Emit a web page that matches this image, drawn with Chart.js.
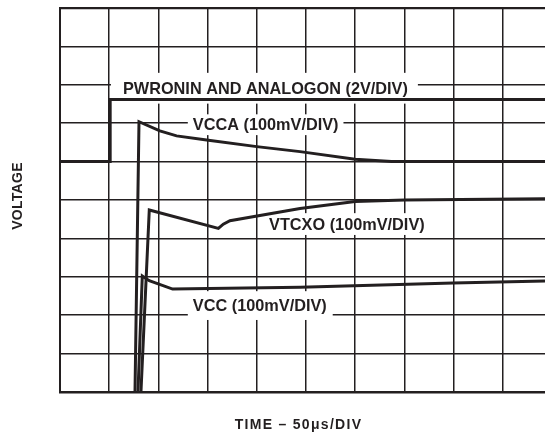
<!DOCTYPE html>
<html><head><meta charset="utf-8">
<script src="https://cdn.jsdelivr.net/npm/chart.js@4/dist/chart.umd.min.js"></script>
<style>html,body{margin:0;padding:0;background:#fff;overflow:hidden}</style>
</head><body>
<canvas id="c" width="545" height="435"></canvas>
<script>
// ---- data (units: oscilloscope divisions) ----
const xTitle = 'TIME \u2013 50\u03bcs/DIV';
const yTitle = 'VOLTAGE';
const xDivisions = [0, 1, 2, 3, 4, 5, 6, 7, 8, 9];
const yDivisions = [0, 1, 2, 3, 4, 5, 6, 7, 8, 9, 10];

const pwroninX = [0, 1.02, 1.02, 9.86];
const pwroninY = [6.0, 6.0, 7.62, 7.62];

const vccaX = [1.519, 1.606, 2.03, 2.37, 2.98, 4.0, 4.88, 6.0, 6.74, 9.86];
const vccaY = [-0.5, 7.04, 6.80, 6.67, 6.56, 6.39, 6.26, 6.06, 6.0, 6.0];

const vtcxoX = [1.628, 1.815, 3.22, 3.32, 3.455, 4.88, 6.0, 7.01, 9.86];
const vtcxoY = [-0.5, 4.74, 4.26, 4.37, 4.46, 4.78, 4.96, 5.0, 5.03];

const vccX = [1.571, 1.673, 1.815, 2.29, 4.88, 7.99, 9.86];
const vccY = [-0.5, 3.02, 2.90, 2.68, 2.73, 2.84, 2.89];

const labelTexts = ['PWRONIN AND ANALOGON (2V/DIV)', 'VCCA (100mV/DIV)', 'VTCXO (100mV/DIV)', 'VCC (100mV/DIV)'];

// ---- annotation placement (data units) and styles ----
const labelPlacement = [
  {x: 1.28, y: 7.77, padL: 12, padR: 10, padT: 9, padB: 10},
  {x: 2.70, y: 6.82, padL: 5, padR: 5, padT: 4, padB: 5},
  {x: 4.25, y: 4.22, padL: 5, padR: 5, padT: 5, padB: 5},
  {x: 2.70, y: 2.11, padL: 5, padR: 6, padT: 8, padB: 9}
];
const INK = '#231f20';
const FONT = '"Liberation Sans", Arial, sans-serif';

const zip = (xs, ys) => xs.map((x, i) => ({x: x, y: ys[i]}));
const mk = (label, xs, ys) => ({
  label: label, data: zip(xs, ys), borderColor: INK, borderWidth: 3,
  pointRadius: 0, tension: 0, fill: false, borderJoinStyle: 'miter', clip: 0
});

const labelPlugin = {
  id: 'traceLabels',
  beforeDatasetsDraw(chart) {
    const ctx = chart.ctx, xs = chart.scales.x, ys = chart.scales.y;
    ctx.save();
    ctx.font = 'bold 16.3px ' + FONT;
    ctx.textBaseline = 'alphabetic';
    ctx.textAlign = 'left';
    const capH = 11.8;
    labelTexts.forEach((t, i) => {
      const p = labelPlacement[i];
      const px = xs.getPixelForValue(p.x), py = ys.getPixelForValue(p.y);
      const w = ctx.measureText(t).width;
      ctx.fillStyle = '#ffffff';
      ctx.fillRect(px - p.padL, py - capH - p.padT, w + p.padL + p.padR, capH + p.padT + p.padB);
      ctx.fillStyle = INK;
      ctx.fillText(t, px, py);
    });
    ctx.restore();
  },
  afterDraw(chart) {
    const ctx = chart.ctx, a = chart.chartArea;
    ctx.save();
    ctx.fillStyle = INK;
    ctx.textAlign = 'center';
    ctx.textBaseline = 'middle';
    // x-axis title
    ctx.font = 'bold 14px ' + FONT;
    if ('letterSpacing' in ctx) ctx.letterSpacing = '1.3px';
    ctx.fillText(xTitle, (a.left + a.right) / 2 - 4, a.bottom + 33);
    // y-axis title
    if ('letterSpacing' in ctx) ctx.letterSpacing = '0.3px';
    ctx.translate(18.5, (a.top + a.bottom) / 2 - 4);
    ctx.rotate(-Math.PI / 2);
    ctx.fillText(yTitle, 0, 0);
    ctx.restore();
  }
};

new Chart(document.getElementById('c'), {
  type: 'line',
  data: {
    datasets: [
      mk('PWRONIN AND ANALOGON', pwroninX, pwroninY),
      mk('VCCA', vccaX, vccaY),
      mk('VTCXO', vtcxoX, vtcxoY),
      mk('VCC', vccX, vccY)
    ]
  },
  options: {
    responsive: false,
    animation: false,
    devicePixelRatio: 1,
    layout: {padding: {left: 60, top: 8, right: 0, bottom: 43}},
    plugins: {legend: {display: false}, tooltip: {enabled: false}},
    scales: {
      x: {
        type: 'linear', min: 0, max: 9.86,
        afterBuildTicks: s => { s.ticks = xDivisions.map(v => ({value: v})); },
        ticks: {display: false},
        grid: {color: INK, lineWidth: 1.5, drawTicks: false},
        border: {display: true, color: INK, width: 2.5},
        title: {display: false}
      },
      y: {
        type: 'linear', min: 0, max: 10,
        afterBuildTicks: s => { s.ticks = yDivisions.map(v => ({value: v})); },
        ticks: {display: false},
        grid: {color: INK, drawTicks: false,
          lineWidth: c => (c.tick && c.tick.value === 10) ? 2.2 : 1.5},
        border: {display: true, color: INK, width: 2},
        title: {display: false}
      }
    }
  },
  plugins: [labelPlugin]
});
</script>
</body></html>
